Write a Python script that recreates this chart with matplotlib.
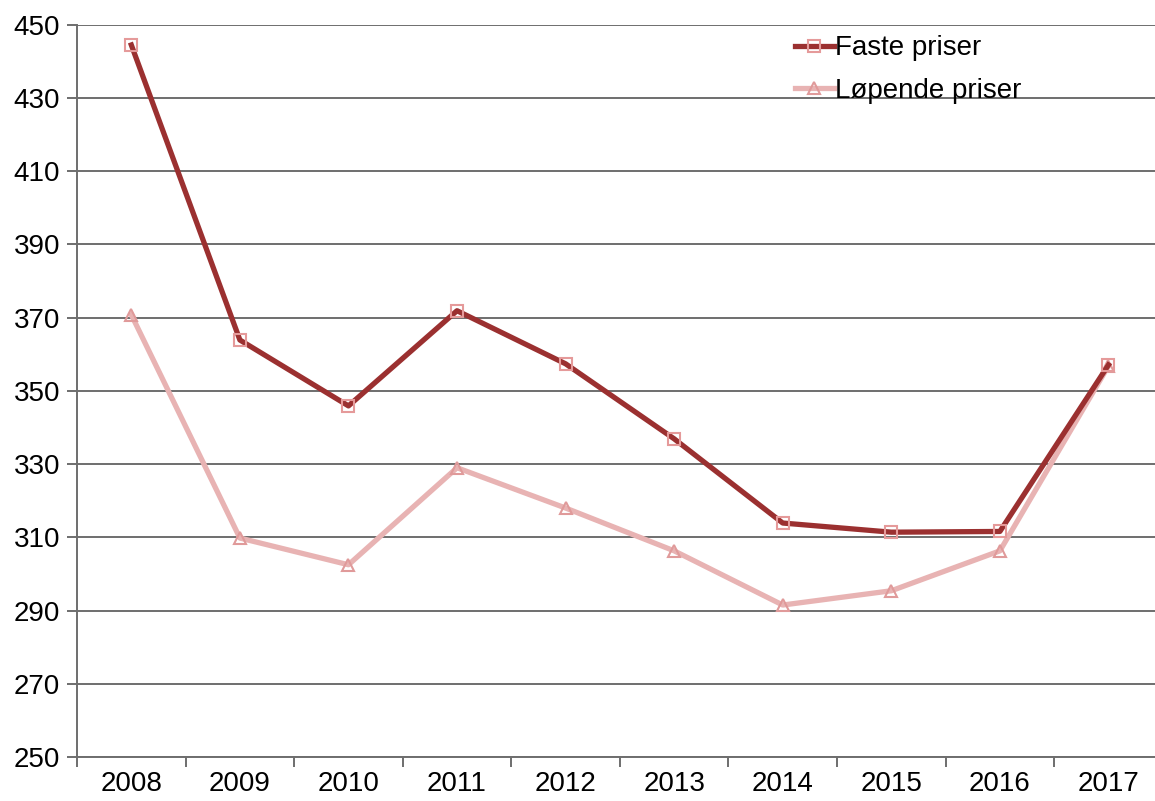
import matplotlib.pyplot as plt

years = ["2008", "2009", "2010", "2011", "2012", "2013", "2014", "2015", "2016", "2017"]
faste = [444.5, 363.9, 345.9, 371.9, 357.4, 336.9, 313.9, 311.4, 311.6, 357.1]
lopende = [370.8, 309.8, 302.5, 329.0, 318.0, 306.3, 291.5, 295.4, 306.3, 356.8]

plt.rcParams["font.family"] = ["Liberation Sans", "DejaVu Sans"]

fig = plt.figure(figsize=(11.55, 8.01), dpi=100)
ax = fig.add_axes([0.0667, 0.055, 0.94, 0.914])

x = list(range(len(years)))
ax.plot(x, faste, color="#9b3030", lw=3.8, marker="s", ms=8,
        mfc="none", mec="#e59a9a", mew=1.5, label="Faste priser", zorder=4)
ax.plot(x, lopende, color="#e8b3b3", lw=3.8, marker="^", ms=8,
        mfc="none", mec="#e09a9a", mew=1.5, label="Løpende priser", zorder=3)

ax.set_ylim(250, 450)
ax.set_yticks(range(250, 451, 20))
ax.set_xlim(-0.5, len(years) - 0.5)
ax.set_xticks(x)
ax.set_xticklabels(years)
ax.set_xticks([i + 0.5 for i in range(-1, len(years))], minor=True)

# gridlines and axis lines
ax.grid(axis="y", color="#6e6e6e", lw=1.4)
ax.set_axisbelow(True)
for s in ["top", "right"]:
    ax.spines[s].set_visible(False)
for s in ["left", "bottom"]:
    ax.spines[s].set_color("#6e6e6e")
    ax.spines[s].set_linewidth(1.4)

ax.tick_params(axis="x", which="major", length=0, labelsize=20, pad=10)
ax.tick_params(axis="x", which="minor", length=7, color="#6e6e6e", width=1.4)
ax.tick_params(axis="y", length=7, color="#6e6e6e", width=1.4, labelsize=20, pad=5)

fig.legend(loc="upper left", bbox_to_anchor=(0.688, 0.956), frameon=False,
           fontsize=20, handlelength=1.4, handletextpad=0.05, labelspacing=0.6,
           borderpad=0, borderaxespad=0)

fig.savefig("out.png", dpi=100)
